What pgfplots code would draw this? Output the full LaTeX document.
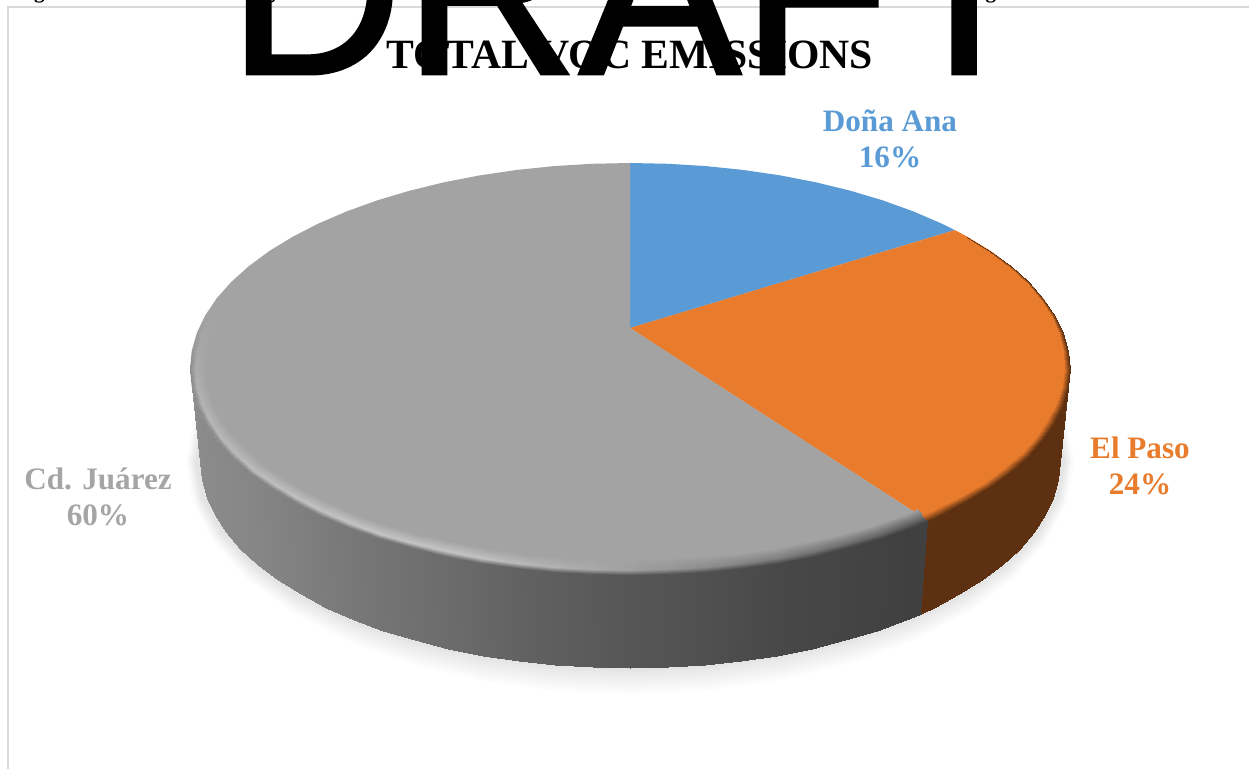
\documentclass[border=0pt]{standalone}
\usepackage{pgfplots}
\usepackage{pgfplotstable}
\usepackage{fontspec}
\pgfplotsset{compat=1.18}
\setmainfont{Liberation Serif}
\newfontfamily\arialf[BoldFont={Liberation Sans},BoldFeatures={FakeBold=1.2}]{Liberation Sans}
\definecolor{cblue}{HTML}{5B9BD5}
\definecolor{corange}{HTML}{E87B2C}
\definecolor{cgray}{HTML}{A3A3A3}
\definecolor{cgraylab}{HTML}{A5A5A5}
\definecolor{cframe}{HTML}{DADADA}
\pgfplotsset{
  colormap={gr}{rgb255=(0,0,0) rgb255=(255,255,255)},
  colormap={or}{rgb255=(232,123,44) rgb255=(92,48,16)}
}
% unit circle used for the soft shadow
\pgfplotstableread{
c s
1 0
.9848 .1736
.9397 .3420
.8660 .5
.7660 .6428
.6428 .7660
.5 .8660
.3420 .9397
.1736 .9848
0 1
-.1736 .9848
-.3420 .9397
-.5 .8660
-.6428 .7660
-.7660 .6428
-.8660 .5
-.9397 .3420
-.9848 .1736
-1 0
-.9848 -.1736
-.9397 -.3420
-.8660 -.5
-.7660 -.6428
-.6428 -.7660
-.5 -.8660
-.3420 -.9397
-.1736 -.9848
0 -1
.1736 -.9848
.3420 -.9397
.5 -.8660
.6428 -.7660
.7660 -.6428
.8660 -.5
.9397 -.3420
.9848 -.1736
}\tcircle
% Dona Ana 16% : top-face slice
\pgfplotstableread{
c s
0 -.199
0 -1
.0872 -.9962
.1736 -.9848
.2588 -.9659
.3420 -.9397
.4226 -.9063
.5 -.8660
.5736 -.8192
.6428 -.7660
.7071 -.7071
.7385 -.6743
}\tblue
% El Paso 24% : top-face slice
\pgfplotstableread{
c s
0 -.199
.7385 -.6743
.7660 -.6428
.8192 -.5736
.8660 -.5
.9063 -.4226
.9397 -.3420
.9659 -.2588
.9848 -.1736
.9962 -.0872
1 0
.9962 .0872
.9848 .1736
.9659 .2588
.9397 .3420
.9063 .4226
.8660 .5
.8192 .5736
.7660 .6428
.7071 .7071
.677 .736
}\torange
% Cd. Juarez 60% : top-face slice
\pgfplotstableread{
c s
0 -.199
.677 .736
.6428 .7660
.5736 .8192
.5 .8660
.4226 .9063
.3420 .9397
.2588 .9659
.1736 .9848
.0872 .9962
0 1
-.0872 .9962
-.1736 .9848
-.2588 .9659
-.3420 .9397
-.4226 .9063
-.5 .8660
-.5736 .8192
-.6428 .7660
-.7071 .7071
-.7660 .6428
-.8192 .5736
-.8660 .5
-.9063 .4226
-.9397 .3420
-.9659 .2588
-.9848 .1736
-.9962 .0872
-1 0
-.9962 -.0872
-.9848 -.1736
-.9659 -.2588
-.9397 -.3420
-.9063 -.4226
-.8660 -.5
-.8192 -.5736
-.7660 -.6428
-.7071 -.7071
-.6428 -.7660
-.5736 -.8192
-.5 -.8660
-.4226 -.9063
-.3420 -.9397
-.2588 -.9659
-.1736 -.9848
-.0872 -.9962
0 -1
}\tgray
% side wall, grey
\pgfplotstableread{
c s r m
.677 .736 0 64
.677 .736 1 64
.6428 .7660 0 64
.6428 .7660 1 64
.5736 .8192 0 66
.5736 .8192 1 66
.5 .8660 0 68
.5 .8660 1 68
.4226 .9063 0 70
.4226 .9063 1 70
.3420 .9397 0 72
.3420 .9397 1 72
.2588 .9659 0 76
.2588 .9659 1 76
.1736 .9848 0 80
.1736 .9848 1 80
.0872 .9962 0 83
.0872 .9962 1 83
0 1 0 86
0 1 1 86
-.0872 .9962 0 90
-.0872 .9962 1 90
-.1736 .9848 0 94
-.1736 .9848 1 94
-.2588 .9659 0 98
-.2588 .9659 1 98
-.3420 .9397 0 103
-.3420 .9397 1 103
-.4226 .9063 0 108
-.4226 .9063 1 108
-.5 .8660 0 112
-.5 .8660 1 112
-.5736 .8192 0 116
-.5736 .8192 1 116
-.6428 .7660 0 120
-.6428 .7660 1 120
-.7071 .7071 0 124
-.7071 .7071 1 124
-.7660 .6428 0 128
-.7660 .6428 1 128
-.8192 .5736 0 131
-.8192 .5736 1 131
-.8660 .5 0 134
-.8660 .5 1 134
-.9063 .4226 0 136
-.9063 .4226 1 136
-.9397 .3420 0 137
-.9397 .3420 1 137
-.9659 .2588 0 138
-.9659 .2588 1 138
-.9848 .1736 0 139
-.9848 .1736 1 139
-.9962 .0872 0 140
-.9962 .0872 1 140
-1 0 0 141
-1 0 1 141
}\tgrayside
% side wall, orange
\pgfplotstableread{
c s r m
1 0 0 255
1 0 1 255
.9962 .0872 0 255
.9962 .0872 1 255
.9848 .1736 0 255
.9848 .1736 1 255
.9659 .2588 0 255
.9659 .2588 1 255
.9397 .3420 0 255
.9397 .3420 1 255
.9063 .4226 0 255
.9063 .4226 1 255
.8660 .5 0 255
.8660 .5 1 255
.8192 .5736 0 255
.8192 .5736 1 255
.7660 .6428 0 255
.7660 .6428 1 255
.7071 .7071 0 255
.7071 .7071 1 255
.677 .736 0 255
.677 .736 1 255
}\torangeside
% bevel band on the rim, grey
\pgfplotstableread{
c s d m
.677 .736 16 163
.677 .736 5 100
.677 .736 0 64
.6428 .7660 16 163
.6428 .7660 5 100
.6428 .7660 0 64
.5736 .8192 16 163
.5736 .8192 5 105
.5736 .8192 0 66
.5 .8660 16 163
.5 .8660 5 110
.5 .8660 0 68
.4226 .9063 16 163
.4226 .9063 5 118
.4226 .9063 0 70
.3420 .9397 16 163
.3420 .9397 5 125
.3420 .9397 0 72
.2588 .9659 16 163
.2588 .9659 5 132
.2588 .9659 0 76
.1736 .9848 16 163
.1736 .9848 5 140
.1736 .9848 0 80
.0872 .9962 16 163
.0872 .9962 5 150
.0872 .9962 0 83
0 1 16 163
0 1 5 160
0 1 0 86
-.0872 .9962 16 163
-.0872 .9962 5 170
-.0872 .9962 0 90
-.1736 .9848 16 163
-.1736 .9848 5 178
-.1736 .9848 0 94
-.2588 .9659 16 163
-.2588 .9659 5 186
-.2588 .9659 0 98
-.3420 .9397 16 163
-.3420 .9397 5 194
-.3420 .9397 0 103
-.4226 .9063 16 163
-.4226 .9063 5 196
-.4226 .9063 0 108
-.5 .8660 16 163
-.5 .8660 5 196
-.5 .8660 0 112
-.5736 .8192 16 163
-.5736 .8192 5 196
-.5736 .8192 0 116
-.6428 .7660 16 163
-.6428 .7660 5 196
-.6428 .7660 0 120
-.7071 .7071 16 163
-.7071 .7071 5 194
-.7071 .7071 0 124
-.7660 .6428 16 163
-.7660 .6428 5 192
-.7660 .6428 0 128
-.8192 .5736 16 163
-.8192 .5736 5 190
-.8192 .5736 0 131
-.8660 .5 16 163
-.8660 .5 5 188
-.8660 .5 0 134
-.9063 .4226 16 163
-.9063 .4226 5 186
-.9063 .4226 0 136
-.9397 .3420 16 163
-.9397 .3420 5 184
-.9397 .3420 0 137
-.9659 .2588 16 163
-.9659 .2588 5 182
-.9659 .2588 0 138
-.9848 .1736 16 163
-.9848 .1736 5 180
-.9848 .1736 0 139
-.9962 .0872 16 163
-.9962 .0872 5 176
-.9962 .0872 0 140
-1 0 16 163
-1 0 5 172
-1 0 0 141
-.9962 -.0872 16 163
-.9962 -.0872 5 168
-.9962 -.0872 0 150
-.9848 -.1736 16 163
-.9848 -.1736 5 165
-.9848 -.1736 0 158
-.9659 -.2588 16 163
-.9659 -.2588 5 163
-.9659 -.2588 0 163
}\tgrayband
% bevel band on the rim, orange
\pgfplotstableread{
c s d m
.7660 -.6428 1 0
.7660 -.6428 0 255
.8192 -.5736 1.5 0
.8192 -.5736 0 255
.8660 -.5 2 0
.8660 -.5 0 255
.9063 -.4226 2.5 0
.9063 -.4226 0 255
.9397 -.3420 3 0
.9397 -.3420 0 255
.9659 -.2588 3.5 0
.9659 -.2588 0 255
.9848 -.1736 4 0
.9848 -.1736 0 255
.9962 -.0872 5 0
.9962 -.0872 0 255
1 0 6 0
1 0 0 255
.9962 .0872 6 0
.9962 .0872 0 255
.9848 .1736 7 0
.9848 .1736 0 255
.9659 .2588 8 0
.9659 .2588 0 255
.9397 .3420 8 0
.9397 .3420 0 255
.9063 .4226 8 0
.9063 .4226 0 255
.8660 .5 8 0
.8660 .5 0 255
.8192 .5736 8 0
.8192 .5736 0 255
.7660 .6428 8 0
.7660 .6428 0 255
.7071 .7071 8 0
.7071 .7071 0 255
.677 .736 8 0
.677 .736 0 255
}\torangeband
\begin{document}
\begin{tikzpicture}
\useasboundingbox (0,0) rectangle (749.4pt,461.4pt);
\clip (0,0) rectangle (749.4pt,461.4pt);
\begin{axis}[
  at={(0,0)}, anchor=south west,
  scale only axis, width=749.4pt, height=461.4pt,
  xmin=0, xmax=1249, ymin=0, ymax=769, y dir=reverse,
  hide axis, clip=false,
  point meta min=0, point meta max=255,
  colormap name=gr
]
% frame
\addplot[draw=cframe, line width=1.2pt] coordinates {(8,769) (8,7) (1249,7)};
% soft shadow
\addplot[fill=black, fill opacity=.012, draw=none] table[x expr={630+444*\thisrow{c}}, y expr={462+232*\thisrow{s}}] {\tcircle};
\addplot[fill=black, fill opacity=.012, draw=none] table[x expr={630+442*\thisrow{c}}, y expr={462+229*\thisrow{s}}] {\tcircle};
\addplot[fill=black, fill opacity=.012, draw=none] table[x expr={630+441*\thisrow{c}}, y expr={462+226*\thisrow{s}}] {\tcircle};
\addplot[fill=black, fill opacity=.012, draw=none] table[x expr={630+440*\thisrow{c}}, y expr={462+223*\thisrow{s}}] {\tcircle};
\addplot[fill=black, fill opacity=.012, draw=none] table[x expr={630+439*\thisrow{c}}, y expr={462+220*\thisrow{s}}] {\tcircle};
\addplot[fill=black, fill opacity=.012, draw=none] table[x expr={630+438*\thisrow{c}}, y expr={462+217*\thisrow{s}}] {\tcircle};
\addplot[fill=black, fill opacity=.012, draw=none] table[x expr={630+437*\thisrow{c}}, y expr={462+214*\thisrow{s}}] {\tcircle};
\addplot[fill=black, fill opacity=.012, draw=none] table[x expr={630+436*\thisrow{c}}, y expr={462+211*\thisrow{s}}] {\tcircle};
\addplot[fill=black, fill opacity=.012, draw=none] table[x expr={630+435*\thisrow{c}}, y expr={462+209*\thisrow{s}}] {\tcircle};
% side wall
\addplot[surf, shader=interp, mesh/cols=2, mesh/ordering=x varies, colormap name=gr, point meta=\thisrow{m}]
  table[x expr={630+(440-10*\thisrow{r})*\thisrow{c}}, y expr={369+93*\thisrow{r}+206*\thisrow{s}}] {\tgrayside};
\addplot[surf, shader=interp, mesh/cols=2, mesh/ordering=x varies, colormap name=or, point meta=\thisrow{m}]
  table[x expr={630+(440-10*\thisrow{r})*\thisrow{c}}, y expr={369+93*\thisrow{r}+206*\thisrow{s}}] {\torangeside};
% top face
\addplot[fill=cblue, draw=none] table[x expr={630+440*\thisrow{c}}, y expr={369+206*\thisrow{s}}] {\tblue} -- cycle;
\addplot[fill=corange, draw=none] table[x expr={630+440*\thisrow{c}}, y expr={369+206*\thisrow{s}}] {\torange} -- cycle;
\addplot[fill=cgray, draw=none] table[x expr={630+440*\thisrow{c}}, y expr={369+206*\thisrow{s}}] {\tgray} -- cycle;
% bevel
\addplot[surf, shader=interp, mesh/cols=3, mesh/ordering=x varies, colormap name=gr, point meta=\thisrow{m}]
  table[x expr={630+(440-\thisrow{d})*\thisrow{c}}, y expr={369+(206-\thisrow{d})*\thisrow{s}}] {\tgrayband};
\addplot[surf, shader=interp, mesh/cols=2, mesh/ordering=x varies, colormap name=or, point meta=\thisrow{m}]
  table[x expr={630+(440-\thisrow{d})*\thisrow{c}}, y expr={369+(206-\thisrow{d})*\thisrow{s}}] {\torangeband};
% texts
\node[anchor=base west, inner sep=0pt, font=\fontsize{12.6}{15}\selectfont\bfseries] at (axis cs:15,-1.5)
  {Figure 8: Chart of Percentage of Total VOC Emissions in the Paso del Norte Airshed by Source Area and Region};
\node[inner sep=0pt, font=\fontsize{25}{30}\selectfont\bfseries] at (axis cs:630,55) {TOTAL VOC EMISSIONS};
\node[inner sep=0pt, align=center, text=cblue, font=\fontsize{18.7}{22}\selectfont\bfseries] at (axis cs:890,139) {Doña Ana\\16\%};
\node[inner sep=0pt, align=center, text=corange, font=\fontsize{18.7}{22}\selectfont\bfseries] at (axis cs:1140,466) {El Paso\\24\%};
\node[inner sep=0pt, align=center, text=cgraylab, font=\fontsize{18.7}{22}\selectfont\bfseries] at (axis cs:98,497) {Cd. Juárez\\60\%};
\node[anchor=base, inner sep=0pt, font=\fontsize{146}{146}\selectfont\arialf\bfseries] at (axis cs:633,74) {DRAFT};
\end{axis}
\end{tikzpicture}
\end{document}
